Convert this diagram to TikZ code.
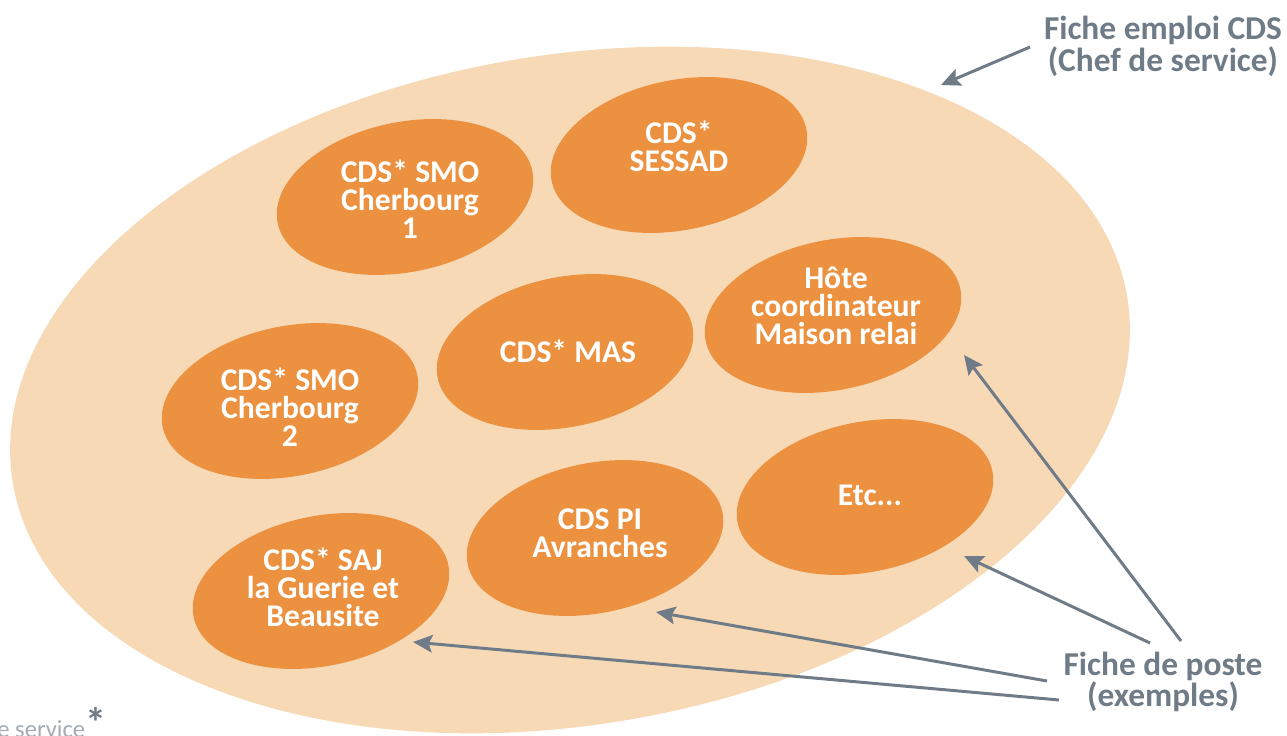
\documentclass[tikz,border=0pt]{standalone}
\usepackage{fontspec}
\setmainfont{Carlito}
\usetikzlibrary{shapes.geometric,arrows.meta,calc}
\definecolor{fondpeche}{HTML}{F7D9B6}
\definecolor{orangeposte}{HTML}{EC9140}
\definecolor{grisfleche}{HTML}{6F7B87}
\definecolor{grisclair}{HTML}{A3ABB3}
\begin{document}
\begin{tikzpicture}[x=0.02cm, y=-0.02cm,
    poste/.style={ellipse, fill=orangeposte, minimum width=5.2cm, minimum height=3cm, inner sep=0pt, outer sep=0pt, rotate=11.5},
    titre/.style={text=white, font=\bfseries\fontsize{18}{16}\selectfont, align=center, inner sep=0pt},
    legende/.style={text=grisfleche, font=\bfseries\fontsize{19}{16.6}\selectfont, align=center, inner sep=0pt},
    fleche/.style={draw=grisfleche, line width=1.7pt, -{Stealth[length=11pt, width=10pt, inset=2pt]}}]
	\useasboundingbox (0,0) rectangle (1287,736);
	\clip (0,0) rectangle (1287,736);
	% grande fiche emploi
	\fill[fondpeche, rotate around={9.5:(570,390)}] (570,390) ellipse [x radius=11.3cm, y radius=6.7cm];
	% fiches de poste
	\node[poste] (smo1) at (405,197) {};
	\node[poste] (sessad) at (679,155) {};
	\node[poste] (mas) at (565,352) {};
	\node[poste] (hote) at (833,315) {};
	\node[poste] (smo2) at (290,401) {};
	\node[poste] (etc) at (865,497) {};
	\node[poste] (pi) at (595,538) {};
	\node[poste] (saj) at (321,591) {};
	\node[titre] at (410,199) {CDS* SMO\\Cherbourg\\1};
	\node[titre] at (679,146) {CDS*\\SESSAD};
	\node[titre] at (568,351) {CDS* MAS};
	\node[titre] at (836,306) {Hôte\\coordinateur\\Maison relai};
	\node[titre] at (290,407) {CDS* SMO\\Cherbourg\\2};
	\node[titre] at (870,495) {Etc...};
	\node[titre] at (600,533) {CDS PI\\Avranches};
	\node[titre] at (323,587) {CDS* SAJ\\la Guerie et\\Beausite};
	% legendes
	\node[legende] (emploi) at (1163,46) {Fiche emploi CDS\\(Chef de service)};
	\node[legende] (fposte) at (1163,682) {Fiche de poste\\(exemples)};
	\node[anchor=base west, inner sep=0pt, text=grisclair, font=\fontsize{14}{14}\selectfont] (renvoi) at (-3,737)
		{e service\textcolor{grisfleche}{\bfseries\fontsize{24}{24}\selectfont*}};
	% pointes des fleches
	\coordinate (p-emploi) at (941,85);
	\coordinate (p-hote) at (964,355);
	\coordinate (p-etc) at (964,556);
	\coordinate (p-pi) at (656,612);
	\coordinate (p-saj) at (413,642);
	\draw[fleche] ($(emploi.center)+(-133,1)$) -- (p-emploi);
	\draw[fleche] ($(fposte.center)+(18,-41)$) -- (p-hote);
	\draw[fleche] ($(fposte.center)+(-13,-39)$) -- (p-etc);
	\draw[fleche] ($(fposte.center)+(-116,-1)$) -- (p-pi);
	\draw[fleche] ($(fposte.center)+(-104,18)$) -- (p-saj);
\end{tikzpicture}
\end{document}
